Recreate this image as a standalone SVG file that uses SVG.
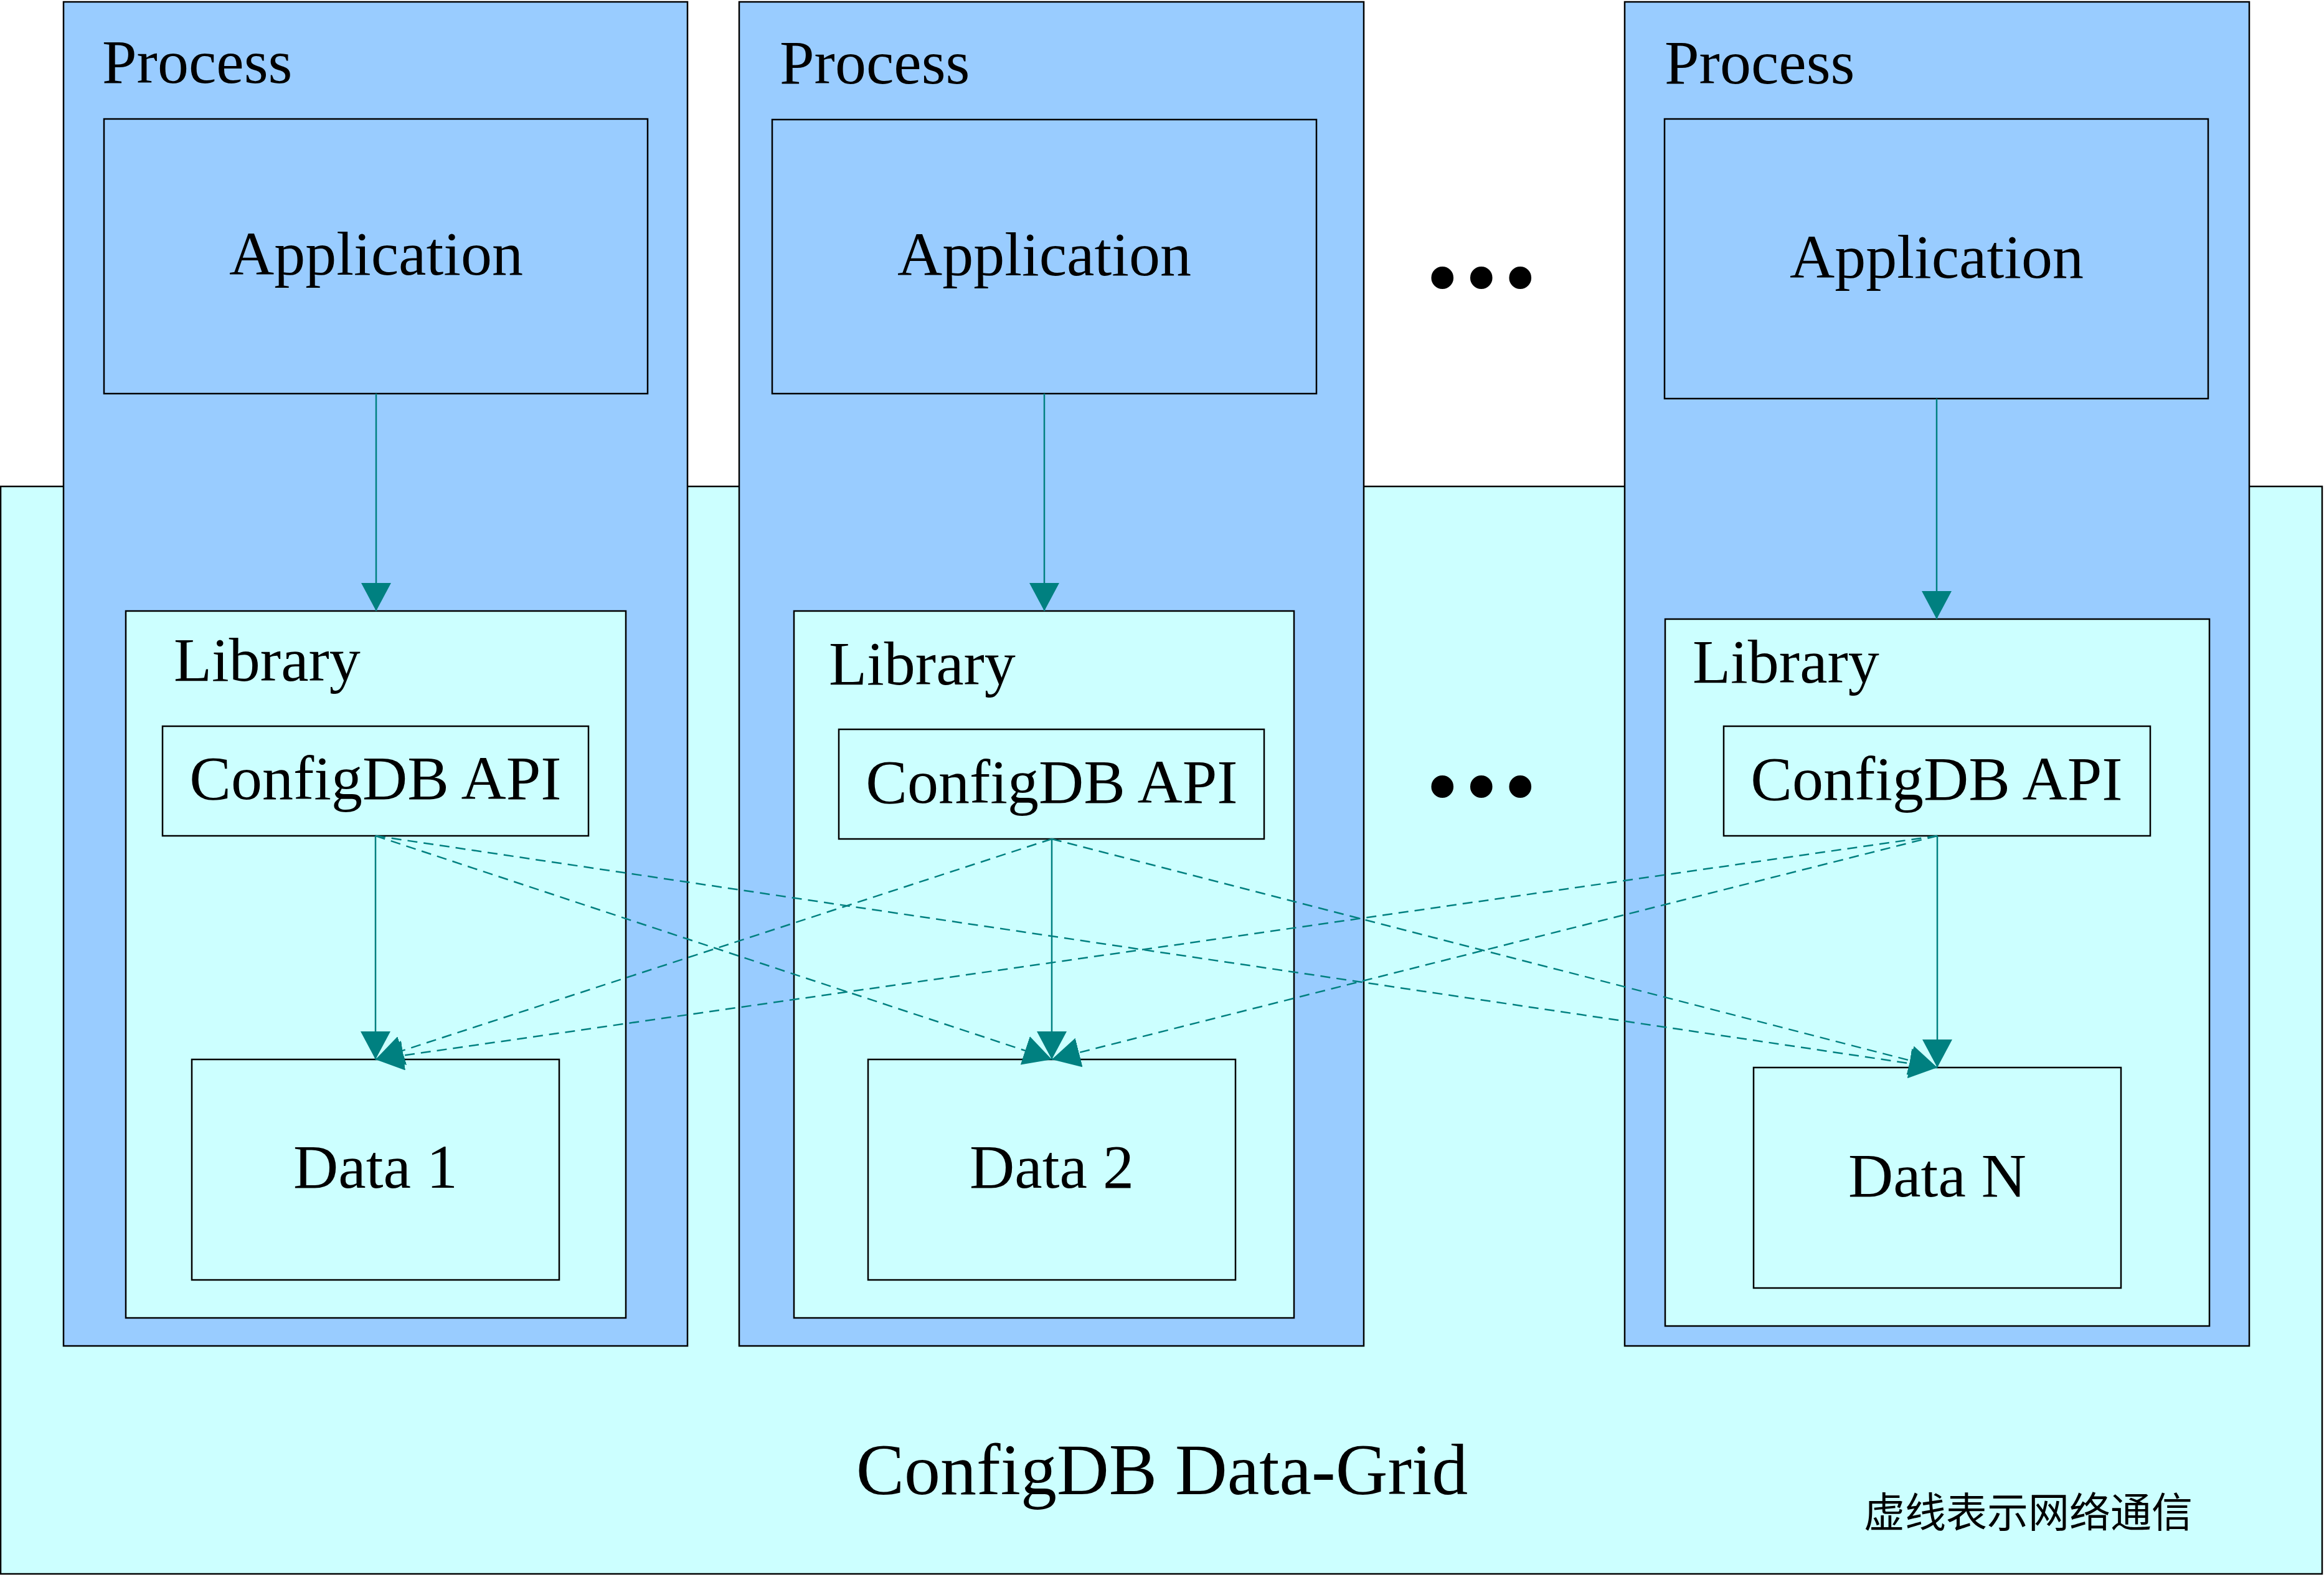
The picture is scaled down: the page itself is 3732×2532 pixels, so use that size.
<svg xmlns="http://www.w3.org/2000/svg" width="3732" height="2532" viewBox="0 0 3732 2532">
<style>
.box{stroke:#000;stroke-width:2.5}
.proc{fill:#99CCFF}
.cyan{fill:#CCFFFF}
.t{font-family:"Liberation Serif","Times New Roman",serif;font-size:100px;fill:#000}
.c{text-anchor:middle}
.con{stroke:#008080;stroke-width:2.5;fill:none}
.dash{stroke-dasharray:16 10}
.dots{font-family:"Liberation Serif",serif;font-size:150px;fill:#000;letter-spacing:10px}
</style>
<defs>
<marker id="ah" markerUnits="userSpaceOnUse" viewBox="0 0 45 48" refX="45" refY="24" markerWidth="45" markerHeight="48" orient="auto">
<path d="M0,0 L45,24 L0,48 z" fill="#008080"/>
</marker>
</defs>
<rect fill="#fff" x="0" y="0" width="3732" height="2532"/>
<g id="grid">
<rect class="box cyan" x="1" y="781" width="3728" height="1746"/>
<text class="t c" x="1866" y="2399" style="font-size:116px">ConfigDB Data-Grid</text>
<text x="2993" y="2452" style="font-family:'Noto Sans CJK SC',sans-serif;font-size:66px;fill:#000">虚线表示网络通信</text>
</g>
<g id="process1">
<rect class="box proc" x="102" y="3" width="1002" height="2158"/>
<text class="t" x="164" y="133">Process</text>
</g>
<g id="process2">
<rect class="box proc" x="1187" y="3" width="1003" height="2158"/>
<text class="t" x="1252" y="134">Process</text>
</g>
<g id="process3">
<rect class="box proc" x="2609" y="3" width="1003" height="2158"/>
<text class="t" x="2673" y="134">Process</text>
</g>
<g id="app1"><rect class="box proc" x="167" y="191" width="873" height="441"/><text class="t c" x="604" y="441">Application</text></g>
<g id="app2"><rect class="box proc" x="1240" y="192" width="874" height="440"/><text class="t c" x="1677" y="442">Application</text></g>
<g id="app3"><rect class="box proc" x="2673" y="191" width="873" height="449"/><text class="t c" x="3110" y="446">Application</text></g>
<g id="lib1"><rect class="box cyan" x="202" y="981" width="803" height="1135"/><text class="t" x="279" y="1093">Library</text></g>
<g id="lib2"><rect class="box cyan" x="1275" y="981" width="803" height="1135"/><text class="t" x="1331" y="1099">Library</text></g>
<g id="lib3"><rect class="box cyan" x="2674" y="994" width="874" height="1135"/><text class="t" x="2718" y="1096">Library</text></g>
<g id="api1"><rect class="box cyan" x="261" y="1166" width="684" height="176"/><text class="t c" x="603" y="1283">ConfigDB API</text></g>
<g id="api2"><rect class="box cyan" x="1347" y="1171" width="683" height="176"/><text class="t c" x="1689" y="1289">ConfigDB API</text></g>
<g id="api3"><rect class="box cyan" x="2768" y="1166" width="685" height="176"/><text class="t c" x="3110" y="1284">ConfigDB API</text></g>
<g id="data1"><rect class="box cyan" x="308" y="1701" width="590" height="354"/><text class="t c" x="603" y="1907">Data 1</text></g>
<g id="data2"><rect class="box cyan" x="1394" y="1701" width="590" height="354"/><text class="t c" x="1689" y="1907">Data 2</text></g>
<g id="dataN"><rect class="box cyan" x="2816" y="1714" width="590" height="354"/><text class="t c" x="3111" y="1921">Data N</text></g>
<g id="ellipsis-top"><text class="dots" x="2290" y="496">•••</text></g>
<g id="ellipsis-mid"><text class="dots" x="2290" y="1313">•••</text></g>
<g id="connectors">
<line class="con" x1="604" y1="632" x2="604" y2="981" marker-end="url(#ah)"/>
<line class="con" x1="1677" y1="632" x2="1677" y2="981" marker-end="url(#ah)"/>
<line class="con" x1="3110" y1="640" x2="3110" y2="994" marker-end="url(#ah)"/>
<line class="con" x1="603" y1="1342" x2="603" y2="1701" marker-end="url(#ah)"/>
<line class="con" x1="1689" y1="1347" x2="1689" y2="1701" marker-end="url(#ah)"/>
<line class="con" x1="3111" y1="1342" x2="3111" y2="1714" marker-end="url(#ah)"/>
<line class="con dash" x1="603" y1="1342" x2="1689" y2="1701" marker-end="url(#ah)"/>
<line class="con dash" x1="603" y1="1342" x2="3111" y2="1714" marker-end="url(#ah)"/>
<line class="con dash" x1="1689" y1="1347" x2="603" y2="1701" marker-end="url(#ah)"/>
<line class="con dash" x1="1689" y1="1347" x2="3111" y2="1714" marker-end="url(#ah)"/>
<line class="con dash" x1="3111" y1="1342" x2="603" y2="1701" marker-end="url(#ah)"/>
<line class="con dash" x1="3111" y1="1342" x2="1689" y2="1701" marker-end="url(#ah)"/>
</g>
</svg>
